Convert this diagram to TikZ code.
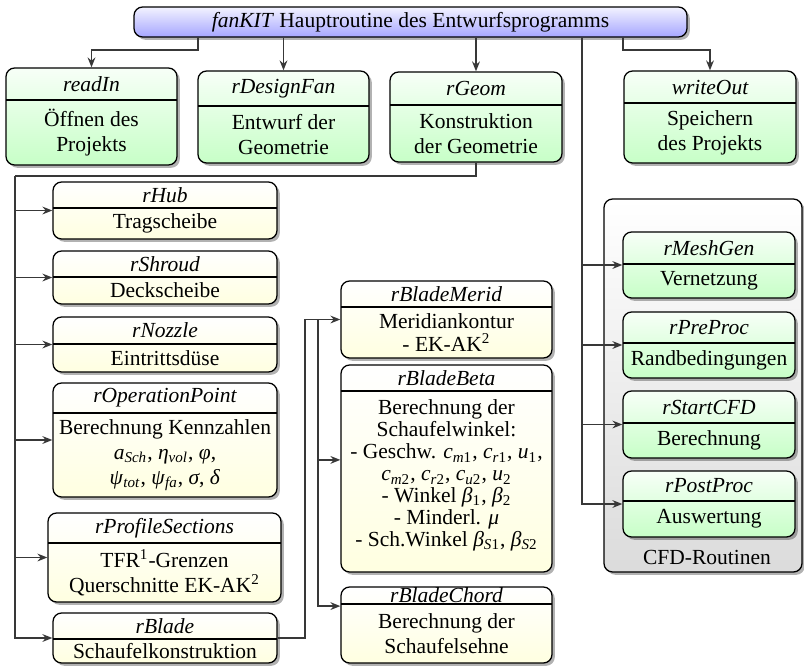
\documentclass[tikz,border=0pt]{standalone}
\usepackage{fontspec}
\setmainfont{Liberation Serif}
\usetikzlibrary{arrows.meta,shadows,fit,calc}

% italic symbols and their indices, set in the text font
\newcommand\vi[1]{\textit{#1}}
\newcommand\sbx[1]{\textsubscript{#1}}

\tikzset{
  box/.style={draw=black, line width=0.6pt, rounded corners=4pt, inner sep=0pt,
    drop shadow={shadow xshift=1.3pt, shadow yshift=-1.3pt, fill=black, opacity=0.3}},
  gbox/.style={box, top color=green!3!white, bottom color=green!22!white},
  ybox/.style={box, top color=white, bottom color=yellow!12!white},
  bbox/.style={box, top color=blue!5!white, bottom color=blue!35!white},
  grpbox/.style={box, top color=white, bottom color=black!14},
  divline/.style={draw=black, line width=0.5pt},
  ttl/.style={font=\fontsize{10}{11.6}\selectfont\itshape, inner sep=0pt},
  bdy/.style={align=center, inner sep=0pt, font=\fontsize{10}{11.6}\selectfont},
  wire/.style={draw=black!78, line width=0.9pt},
  conn/.style={wire, -{Stealth[length=4.6pt, width=3.6pt]}},
}

% A routine box: name, style, x1, y1, x2, y2, divider y, title, body
\newcommand\routine[9]{%
  \node[#2, fit={(#3,#4) (#5,#6)}] (#1) {};
  \draw[divline] (#3,#7) -- (#5,#7);
  \node[ttl] (#1-t) at ($(#3,#4)!0.5!(#5,#7)$) {#8};
  \node[bdy] (#1-b) at ($(#3,#7)!0.5!(#5,#6)$) {#9};
}

\begin{document}
\begin{tikzpicture}[x=0.465pt, y=-0.465pt]
\useasboundingbox (0,0) rectangle (804,665);

% frame around the CFD routines
\node[grpbox, fit={(604,199) (802,572)}] (cfd) {};
\node[inner sep=0pt, font=\fontsize{10}{11.6}\selectfont] (cfd-l) at (707,557) {CFD-Routinen};

% main routine
\node[bbox, fit={(134,7) (687,37)}] (main) {};
\node[inner sep=0pt, font=\fontsize{10}{11.6}\selectfont] (main-t) at (main.center) {\textit{fanKIT} Hauptroutine des Entwurfsprogramms};

% first level
\routine{readIn}{gbox}{6}{68}{177}{165}{100}{readIn}{Öffnen des\\Projekts}
\routine{rDesignFan}{gbox}{198}{71}{369}{163}{106}{rDesignFan}{Entwurf der\\Geometrie}
\routine{rGeom}{gbox}{390}{72}{562}{162}{105}{rGeom}{Konstruktion\\der Geometrie}
\routine{writeOut}{gbox}{624}{71}{796}{163}{103}{writeOut}{Speichern\\des Projekts}

% geometry routines
\routine{rHub}{ybox}{53}{182}{277}{239}{208}{rHub}{Tragscheibe}
\routine{rShroud}{ybox}{53}{251}{277}{304}{277}{rShroud}{Deckscheibe}
\routine{rNozzle}{ybox}{53}{317}{277}{372}{344}{rNozzle}{Eintrittsdüse}
\routine{rOperationPoint}{ybox}{53}{383}{277}{497}{413}{rOperationPoint}{Berechnung Kennzahlen\\\vi{a}\sbx{\vi{Sch}}, \vi{η}\sbx{\vi{vol}}, \vi{φ},\\\vi{ψ}\sbx{\vi{tot}}, \vi{ψ}\sbx{\vi{fa}}, \vi{σ}, \vi{δ}}
\routine{rProfileSections}{ybox}{48}{513}{281}{602}{543}{rProfileSections}{TFR\textsuperscript{1}-Grenzen\\Querschnitte EK-AK\textsuperscript{2}}
\routine{rBlade}{ybox}{53}{613}{277}{663}{639}{rBlade}{Schaufelkonstruktion}

% blade routines
\routine{rBladeMerid}{ybox}{341}{281}{552}{358}{307}{rBladeMerid}{Meridiankontur\\[-1.2pt]- EK-AK\textsuperscript{2}}
\routine{rBladeBeta}{ybox}{341}{365}{552}{572}{391}{rBladeBeta}{Berechnung der\\[-1.4pt]Schaufelwinkel:\\[-1.4pt]- Geschw. \vi{c}\sbx{\vi{m}1}, \vi{c}\sbx{\vi{r}1}, \vi{u}\sbx{1},\\[-1.4pt]\vi{c}\sbx{\vi{m}2}, \vi{c}\sbx{\vi{r}2}, \vi{c}\sbx{\vi{u}2}, \vi{u}\sbx{2}\\[-1.4pt]- Winkel \vi{β}\sbx{1}, \vi{β}\sbx{2}\\[-1.4pt]- Minderl. \vi{μ}\\[-1.4pt]- Sch.Winkel \vi{β}\sbx{\vi{S}1}, \vi{β}\sbx{\vi{S}2}\\[-4pt]}
\routine{rBladeChord}{ybox}{341}{587}{552}{663}{604}{rBladeChord}{Berechnung der\\Schaufelsehne}

% CFD routines
\routine{rMeshGen}{gbox}{623}{232}{795}{298}{264}{rMeshGen}{Vernetzung}
\routine{rPreProc}{gbox}{623}{312}{795}{378}{343}{rPreProc}{Randbedingungen}
\routine{rStartCFD}{gbox}{623}{391}{795}{458}{423}{rStartCFD}{Berechnung}
\routine{rPostProc}{gbox}{623}{471}{795}{537}{501}{rPostProc}{Auswertung}

% calls from the main routine
\coordinate (tapIn) at (198,37);
\coordinate (tapOut) at (623,37);
\coordinate (tapCFD) at (582,37);
\draw[conn] (tapIn) -- ++(0,13) -| (readIn.north);
\draw[conn] (main.south -| rDesignFan.north) -- (rDesignFan.north);
\draw[conn] (main.south -| rGeom.north) -- (rGeom.north);
\draw[conn] (tapOut) -- ++(0,13) -| (writeOut.north);
\foreach \n in {rMeshGen,rPreProc,rStartCFD,rPostProc}
  \draw[conn] (tapCFD) |- (\n.west);

% calls from rGeom
\coordinate (lsp) at (15,176);
\draw[wire] (rGeom.south) |- (lsp);
\foreach \n in {rHub,rShroud,rNozzle,rOperationPoint,rProfileSections,rBlade}
  \draw[conn] (lsp) |- (\n.west);

% calls from rBlade
\coordinate (mj) at ($(rBladeMerid.west)+(-22,0)$);
\draw[conn] (rBlade.east) -- ++(27,0) |- (rBladeMerid.west);
\draw[conn] (mj) |- ([yshift=4pt]rBladeBeta.west);
\draw[conn] (mj) |- ([yshift=8.8pt]rBladeChord.west);
\end{tikzpicture}
\end{document}
